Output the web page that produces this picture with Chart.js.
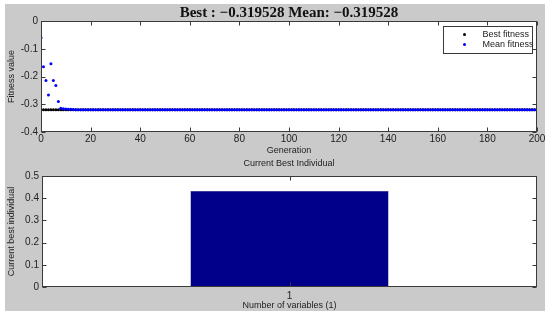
<!DOCTYPE html>
<html>
<head>
<meta charset="utf-8">
<script src="https://cdn.jsdelivr.net/npm/chart.js@4"></script>
<style>
  html, body { margin: 0; padding: 0; background: #fff; }
  #wrap { position: relative; width: 550px; height: 315px; overflow: hidden; }
  #panel { position: absolute; left: 5px; top: 4px; width: 540px; height: 307px; background: #cacaca; }
  canvas { position: absolute; left: 0; }
  #c1 { top: 0; }
  #c2 { top: 158px; }
  .ttl { position: absolute; left: 0; width: 578px; text-align: center; white-space: nowrap; color: #111; }
  #t1 { top: 4px; font: bold 15px/16px "Liberation Serif", "Times New Roman", serif; }
  #t2 { top: 158px; font: 9px/10px "Liberation Sans", Arial, sans-serif; color: #222; }
</style>
</head>
<body>
<div id="wrap">
  <div id="panel"></div>
  <canvas id="c1" width="550" height="158"></canvas>
  <canvas id="c2" width="550" height="157"></canvas>
  <div class="ttl" id="t1"></div>
  <div class="ttl" id="t2">Current Best Individual</div>
</div>
<script>
// ---------- Data ----------
const BEST_VALUE_TEXT = '\u22120.319528';

// mean fitness per generation, 0..200
const MEAN_FITNESS = [
  -0.060, -0.165, -0.214, -0.267, -0.154, -0.214, -0.232, -0.290, -0.314, -0.316,
  -0.317, -0.318, -0.318, -0.319, -0.3195, -0.3195, -0.3195, -0.3195, -0.3195, -0.3195,
  -0.3195, -0.3195, -0.3195, -0.3195, -0.3195, -0.3195, -0.3195, -0.3195, -0.3195, -0.3195,
  -0.3195, -0.3195, -0.3195, -0.3195, -0.3195, -0.3195, -0.3195, -0.3195, -0.3195, -0.3195,
  -0.3195, -0.3195, -0.3195, -0.3195, -0.3195, -0.3195, -0.3195, -0.3195, -0.3195, -0.3195,
  -0.3195, -0.3195, -0.3195, -0.3195, -0.3195, -0.3195, -0.3195, -0.3195, -0.3195, -0.3195,
  -0.3195, -0.3195, -0.3195, -0.3195, -0.3195, -0.3195, -0.3195, -0.3195, -0.3195, -0.3195,
  -0.3195, -0.3195, -0.3195, -0.3195, -0.3195, -0.3195, -0.3195, -0.3195, -0.3195, -0.3195,
  -0.3195, -0.3195, -0.3195, -0.3195, -0.3195, -0.3195, -0.3195, -0.3195, -0.3195, -0.3195,
  -0.3195, -0.3195, -0.3195, -0.3195, -0.3195, -0.3195, -0.3195, -0.3195, -0.3195, -0.3195,
  -0.3195, -0.3195, -0.3195, -0.3195, -0.3195, -0.3195, -0.3195, -0.3195, -0.3195, -0.3195,
  -0.3195, -0.3195, -0.3195, -0.3195, -0.3195, -0.3195, -0.3195, -0.3195, -0.3195, -0.3195,
  -0.3195, -0.3195, -0.3195, -0.3195, -0.3195, -0.3195, -0.3195, -0.3195, -0.3195, -0.3195,
  -0.3195, -0.3195, -0.3195, -0.3195, -0.3195, -0.3195, -0.3195, -0.3195, -0.3195, -0.3195,
  -0.3195, -0.3195, -0.3195, -0.3195, -0.3195, -0.3195, -0.3195, -0.3195, -0.3195, -0.3195,
  -0.3195, -0.3195, -0.3195, -0.3195, -0.3195, -0.3195, -0.3195, -0.3195, -0.3195, -0.3195,
  -0.3195, -0.3195, -0.3195, -0.3195, -0.3195, -0.3195, -0.3195, -0.3195, -0.3195, -0.3195,
  -0.3195, -0.3195, -0.3195, -0.3195, -0.3195, -0.3195, -0.3195, -0.3195, -0.3195, -0.3195,
  -0.3195, -0.3195, -0.3195, -0.3195, -0.3195, -0.3195, -0.3195, -0.3195, -0.3195, -0.3195,
  -0.3195, -0.3195, -0.3195, -0.3195, -0.3195, -0.3195, -0.3195, -0.3195, -0.3195, -0.3195,
  -0.3195
];

// best fitness per generation, 0..200
const BEST_FITNESS = [
  -0.3195, -0.3195, -0.3195, -0.3195, -0.3195, -0.3195, -0.3195, -0.3195, -0.3195, -0.3195,
  -0.3195, -0.3195, -0.3195, -0.3195, -0.3195, -0.3195, -0.3195, -0.3195, -0.3195, -0.3195,
  -0.3195, -0.3195, -0.3195, -0.3195, -0.3195, -0.3195, -0.3195, -0.3195, -0.3195, -0.3195,
  -0.3195, -0.3195, -0.3195, -0.3195, -0.3195, -0.3195, -0.3195, -0.3195, -0.3195, -0.3195,
  -0.3195, -0.3195, -0.3195, -0.3195, -0.3195, -0.3195, -0.3195, -0.3195, -0.3195, -0.3195,
  -0.3195, -0.3195, -0.3195, -0.3195, -0.3195, -0.3195, -0.3195, -0.3195, -0.3195, -0.3195,
  -0.3195, -0.3195, -0.3195, -0.3195, -0.3195, -0.3195, -0.3195, -0.3195, -0.3195, -0.3195,
  -0.3195, -0.3195, -0.3195, -0.3195, -0.3195, -0.3195, -0.3195, -0.3195, -0.3195, -0.3195,
  -0.3195, -0.3195, -0.3195, -0.3195, -0.3195, -0.3195, -0.3195, -0.3195, -0.3195, -0.3195,
  -0.3195, -0.3195, -0.3195, -0.3195, -0.3195, -0.3195, -0.3195, -0.3195, -0.3195, -0.3195,
  -0.3195, -0.3195, -0.3195, -0.3195, -0.3195, -0.3195, -0.3195, -0.3195, -0.3195, -0.3195,
  -0.3195, -0.3195, -0.3195, -0.3195, -0.3195, -0.3195, -0.3195, -0.3195, -0.3195, -0.3195,
  -0.3195, -0.3195, -0.3195, -0.3195, -0.3195, -0.3195, -0.3195, -0.3195, -0.3195, -0.3195,
  -0.3195, -0.3195, -0.3195, -0.3195, -0.3195, -0.3195, -0.3195, -0.3195, -0.3195, -0.3195,
  -0.3195, -0.3195, -0.3195, -0.3195, -0.3195, -0.3195, -0.3195, -0.3195, -0.3195, -0.3195,
  -0.3195, -0.3195, -0.3195, -0.3195, -0.3195, -0.3195, -0.3195, -0.3195, -0.3195, -0.3195,
  -0.3195, -0.3195, -0.3195, -0.3195, -0.3195, -0.3195, -0.3195, -0.3195, -0.3195, -0.3195,
  -0.3195, -0.3195, -0.3195, -0.3195, -0.3195, -0.3195, -0.3195, -0.3195, -0.3195, -0.3195,
  -0.3195, -0.3195, -0.3195, -0.3195, -0.3195, -0.3195, -0.3195, -0.3195, -0.3195, -0.3195,
  -0.3195, -0.3195, -0.3195, -0.3195, -0.3195, -0.3195, -0.3195, -0.3195, -0.3195, -0.3195,
  -0.3195
];

const GENERATIONS = MEAN_FITNESS.map((_, i) => i);

const VARIABLE_LABELS = ['1'];
const BEST_INDIVIDUAL = [0.432];

// ---------- Style ----------
const AXIS = '#3a3a3a';
const TEXT = '#222';
const SANS = '"Liberation Sans", Arial, sans-serif';
Chart.defaults.font.family = SANS;
Chart.defaults.color = TEXT;

document.getElementById('t1').textContent = 'Best : ' + BEST_VALUE_TEXT + ' Mean: ' + BEST_VALUE_TEXT;

// white plot area, box around it + inward ticks on all four sides (matlab look)
const boxTicks = {
  id: 'boxTicks',
  beforeDraw(chart) {
    const { ctx, chartArea: a } = chart;
    ctx.save();
    ctx.fillStyle = '#ffffff';
    ctx.fillRect(Math.round(a.left), Math.round(a.top), Math.round(a.right - a.left), Math.round(a.bottom - a.top));
    ctx.restore();
  },
  afterDraw(chart) {
    const { ctx, chartArea: a } = chart;
    const sx = chart.scales.x, sy = chart.scales.y;
    const L = Math.round(a.left) + 0.5, R = Math.round(a.right) - 0.5;
    const T = Math.round(a.top) + 0.5, B = Math.round(a.bottom) - 0.5;
    ctx.save();
    ctx.strokeStyle = AXIS;
    ctx.lineWidth = 1;
    ctx.strokeRect(L, T, R - L, B - T);
    ctx.beginPath();
    sx.ticks.forEach((t, i) => {
      const px = Math.round(sx.getPixelForTick(i)) + 0.5;
      ctx.moveTo(px, B); ctx.lineTo(px, B - 4);
      ctx.moveTo(px, T); ctx.lineTo(px, T + 4);
    });
    sy.ticks.forEach((t, i) => {
      const py = Math.round(sy.getPixelForTick(i)) + 0.5;
      ctx.moveTo(L, py); ctx.lineTo(L + 4, py);
      ctx.moveTo(R, py); ctx.lineTo(R - 4, py);
    });
    ctx.stroke();
    ctx.restore();
  }
};

// legend box inside the top right corner
const insideLegend = {
  id: 'insideLegend',
  afterDraw(chart) {
    const { ctx, chartArea: a } = chart;
    const w = 89, h = 27;
    const x0 = Math.round(a.right - 5 - w) + 0.5, y0 = Math.round(a.top + 5) + 0.5;
    ctx.save();
    ctx.fillStyle = '#fff';
    ctx.fillRect(x0, y0, w, h);
    ctx.strokeStyle = AXIS;
    ctx.strokeRect(x0, y0, w, h);
    ctx.font = '9px ' + SANS;
    ctx.textBaseline = 'middle';
    chart.data.datasets.forEach((ds, i) => {
      const yy = y0 + 8 + i * 10;
      ctx.fillStyle = ds.backgroundColor;
      ctx.beginPath();
      ctx.arc(x0 + 21, yy, 1.5, 0, Math.PI * 2);
      ctx.fill();
      ctx.fillStyle = TEXT;
      ctx.fillText(ds.label, x0 + 39, yy);
    });
    ctx.restore();
  }
};

// ---------- Top: fitness vs generation ----------
new Chart(document.getElementById('c1'), {
  type: 'line',
  data: {
    labels: GENERATIONS,
    datasets: [
      { label: 'Best fitness', data: BEST_FITNESS, order: 1,
        showLine: false, pointRadius: 1.5, pointBorderWidth: 0,
        backgroundColor: '#000', borderColor: '#000' },
      { label: 'Mean fitness', data: MEAN_FITNESS, order: 0,
        showLine: false, pointRadius: 1.5, pointBorderWidth: 0,
        backgroundColor: '#0000ff', borderColor: '#0000ff' }
    ]
  },
  options: {
    responsive: false,
    animation: false,
    layout: { padding: { left: 6, right: 13, top: 21, bottom: 0 } },
    plugins: {
      legend: { display: false },
      tooltip: { enabled: false }
    },
    scales: {
      x: {
        type: 'linear', min: 0, max: 200,
        ticks: { stepSize: 20, padding: 1, font: { size: 10 }, maxRotation: 0 },
        grid: { display: false, drawTicks: false },
        border: { display: false },
        title: { display: true, text: 'Generation', font: { size: 9 }, padding: { top: 0, bottom: 1.6 } },
        afterFit: s => { s.height = 26; }
      },
      y: {
        min: -0.4, max: 0,
        ticks: { stepSize: 0.1, padding: 3, font: { size: 10 } },
        grid: { display: false, drawTicks: false },
        border: { display: false },
        title: { display: true, text: 'Fitness value', font: { size: 9 }, padding: 0 },
        afterFit: s => { s.width = 35; }
      }
    }
  },
  plugins: [boxTicks, insideLegend]
});

// ---------- Bottom: current best individual ----------
new Chart(document.getElementById('c2'), {
  type: 'bar',
  data: {
    labels: VARIABLE_LABELS,
    datasets: [{
      label: 'Current best individual',
      data: BEST_INDIVIDUAL,
      backgroundColor: '#00008b',
      borderColor: '#000050',
      borderWidth: 0.5,
      barPercentage: 0.4,
      categoryPercentage: 1
    }]
  },
  options: {
    responsive: false,
    animation: false,
    layout: { padding: { left: 6, right: 13, top: 18, bottom: 0 } },
    plugins: {
      legend: { display: false },
      tooltip: { enabled: false }
    },
    scales: {
      x: {
        ticks: { padding: 3, font: { size: 10 } },
        grid: { display: false, drawTicks: false },
        border: { display: false },
        title: { display: true, text: 'Number of variables (1)', font: { size: 9 }, padding: { top: 0, bottom: 3.6 } },
        afterFit: s => { s.height = 28; }
      },
      y: {
        min: 0, max: 0.5,
        ticks: { stepSize: 0.1, padding: 3, font: { size: 10 } },
        grid: { display: false, drawTicks: false },
        border: { display: false },
        title: { display: true, text: 'Current best individual', font: { size: 9 }, padding: 0 },
        afterFit: s => { s.width = 36; }
      }
    }
  },
  plugins: [boxTicks]
});
</script>
</body>
</html>
